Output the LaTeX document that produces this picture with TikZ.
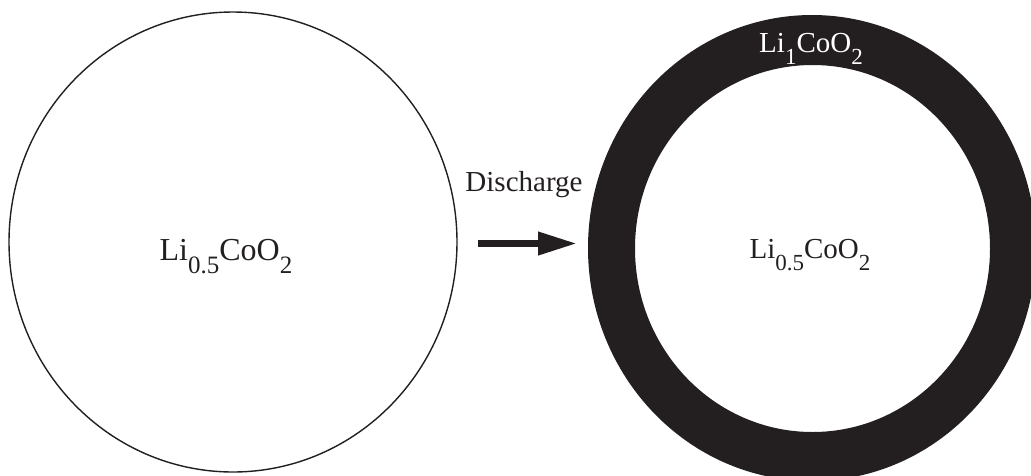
\documentclass[tikz,border=0pt]{standalone}
\usepackage{fontspec}
\setmainfont{Liberation Serif}
\usetikzlibrary{arrows.meta}
\definecolor{ink}{HTML}{231F20}
\newcommand{\subtxt}[1]{\raisebox{-12pt}{\fontsize{23}{23}\selectfont #1}}
\newcommand{\bigsubtxt}[1]{\raisebox{-13pt}{\fontsize{25}{25}\selectfont #1}}
\tikzset{
  lbl/.style={font=\fontsize{29}{29}\selectfont, text=ink, inner sep=0pt, anchor=base},
  biglbl/.style={lbl, font=\fontsize{32}{32}\selectfont},
  wlbl/.style={lbl, text=white},
  bigarrow/.style={draw=ink, line width=7pt, -{Triangle[length=39pt,width=22pt]}}
}
\begin{document}
\begin{tikzpicture}[x=1pt,y=-1pt]
\useasboundingbox (0,0) rectangle (1031,475);
\clip (0,0) rectangle (1031,475);
% left particle
\draw[ink, line width=1.4pt] (233,242) ellipse [x radius=224, y radius=230];
\coordinate (leftc) at (233,242);
% right particle: ring
\fill[ink, even odd rule] (812,248) ellipse [x radius=224, y radius=233]
  (812.5,248.5) ellipse [x radius=177.5, y radius=183.5];
\coordinate (rightc) at (812,248);
% labels
\node[biglbl] (lt) at (226,260) {Li\bigsubtxt{0.5}CoO\bigsubtxt{2}};
\node[lbl] (rt) at (810,258) {Li\subtxt{0.5}CoO\subtxt{2}};
\node[wlbl] (shell) at (811,52) {Li\subtxt{1}CoO\subtxt{2}};
\node[lbl] (dis) at (524,191) {Discharge};
% arrow
\coordinate (a1) at (478,243.5);
\coordinate (a2) at (577,243.5);
\draw[bigarrow] (a1) -- (a2);
\end{tikzpicture}
\end{document}
